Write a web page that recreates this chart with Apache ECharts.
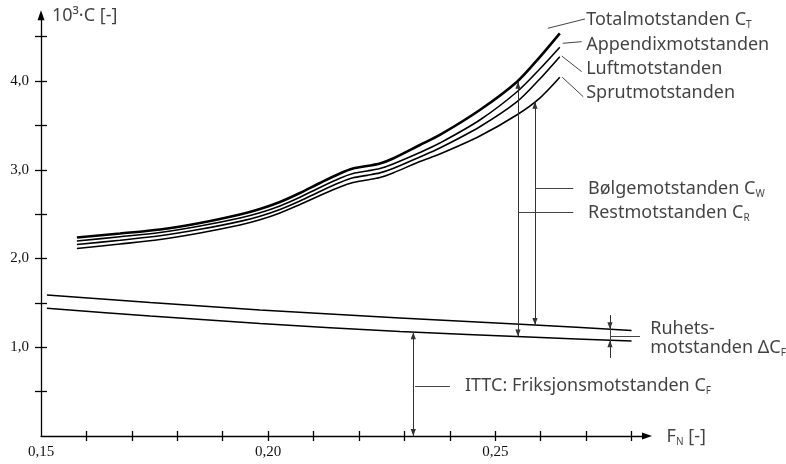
<!DOCTYPE html>
<html><head><meta charset="utf-8">
<script src="https://cdn.jsdelivr.net/npm/echarts@6/dist/echarts.min.js"></script>
<style>html,body{margin:0;padding:0;background:#fff}#c{width:786px;height:464px}</style>
</head><body><div id="c"></div>
<script>
// ---- data ----
const froudeCurves = [0.1579,0.1674,0.1762,0.1850,0.1938,0.1982,0.2026,0.2070,0.2114,0.2158,0.2187,0.2218,0.2246,0.2275,0.2334,0.2378,0.2466,0.2548,0.2598,0.2642];
const totalC    = [2.237,2.282,2.327,2.400,2.496,2.558,2.637,2.738,2.851,2.958,3.014,3.042,3.070,3.127,3.279,3.392,3.673,3.992,4.270,4.537];
const appendixC = [2.197,2.245,2.293,2.366,2.457,2.516,2.592,2.690,2.801,2.905,2.958,2.986,3.013,3.065,3.194,3.301,3.561,3.879,4.135,4.380];
const luftC     = [2.158,2.206,2.256,2.329,2.418,2.477,2.553,2.648,2.756,2.856,2.909,2.937,2.965,3.014,3.144,3.245,3.485,3.767,4.023,4.274];
const sprutC    = [2.113,2.163,2.214,2.288,2.378,2.436,2.513,2.609,2.710,2.806,2.856,2.885,2.912,2.964,3.093,3.177,3.380,3.620,3.808,4.042];
const froudeFriction = [0.1513,0.1740,0.1982,0.2290,0.2587,0.2800];
const roughFrictionC = [1.589,1.504,1.420,1.330,1.250,1.190];
const ittcFrictionC  = [1.439,1.352,1.268,1.177,1.113,1.070];
const xTickValues  = [0.16,0.17,0.18,0.19,0.20,0.21,0.22,0.23,0.24,0.25,0.26,0.27,0.28];
const xLabelValues = [0.15,0.20,0.25];
const yTickValues  = [0.5,1.0,1.5,2.0,2.5,3.0,3.5,4.0,4.5];
const yLabelValues = [1.0,2.0,3.0,4.0];

// annotation geometry in data units
const doubleArrows = [
  [[0.23195,1.168],[0.23195,0]],     // ITTC C_F
  [[0.2550,1.121],[0.2550,3.992]],   // Restmotstanden C_R
  [[0.25874,1.252],[0.25874,3.767]]  // Bølgemotstanden C_W
];
const singleArrows = [
  [[0.27525,1.363],[0.27525,1.204]],
  [[0.27525,0.879],[0.27525,1.080]]
];
const plainLines = [
  [[0.27525,1.204],[0.27525,1.080]],
  [[0.27525,1.127],[0.28186,1.127]],
  [[0.23233,0.556],[0.24003,0.556]],
  [[0.25506,2.521],[0.26717,2.521]],
  [[0.25874,2.786],[0.26717,2.786]],
  [[0.26157,4.594],[0.26975,4.699]],
  [[0.26484,4.425],[0.26902,4.443]],
  [[0.26462,4.282],[0.26902,4.105]],
  [[0.26475,4.042],[0.26937,3.823]]
];
const textLabels = [
  [0.2700,4.687,'{t|Totalmotstanden C}{s|T}'],
  [0.2700,4.406,'{t|Appendixmotstanden}'],
  [0.2700,4.140,'{t|Luftmotstanden}'],
  [0.2700,3.865,'{t|Sprutmotstanden}'],
  [0.2704,2.783,'{t|Bølgemotstanden C}{s|W}'],
  [0.2704,2.513,'{t|Restmotstanden C}{s|R}'],
  [0.2841,1.210,'{t|Ruhets-}'],
  [0.2841,0.992,'{t|motstanden ΔC}{s|F}'],
  [0.2433,0.563,'{t|ITTC: Friksjonsmotstanden C}{s|F}'],
  [0.1524,4.730,'{t|10³·C [-]}'],
  [0.2877,-0.015,'{t|F}{s|N}{t| [-]}']
];

const SANS = '"Noto Sans", "Open Sans", sans-serif';
const SERIF = '"Liberation Serif", "DejaVu Serif", serif';
const arrowHead = 'path://M0,8 L3,16 L-3,16 Z M-8,0 L8,0 L8,0.001 Z';

const zip = (xs, ys) => xs.map((x, i) => [x, ys[i]]);
const curve = (name, ys, w) => ({
  name, type: 'line', data: zip(froudeCurves, ys), smooth: 0.3, showSymbol: false,
  lineStyle: { color: '#000', width: w }, silent: true, z: 3
});

const chart = echarts.init(document.getElementById('c'), null, { renderer: 'canvas' });
const xMin = 0.15, xMax = 0.2834, yMax = 4.74;
const axisCommon = { type: 'value', splitLine: { show: false } };
chart.setOption({
  animation: false,
  backgroundColor: '#fff',
  grid: { left: 41, right: 139, top: 436 - yMax * 88.75, bottom: 28, outerBoundsMode: 'none' },
  xAxis: [
    Object.assign({}, axisCommon, {
      min: xMin, max: xMax,
      axisLine: { show: true, symbol: ['none', 'triangle'], symbolSize: [7, 10], lineStyle: { color: '#000', width: 1.3 } },
      axisTick: { show: true, customValues: xTickValues, length: 5, lineStyle: { color: '#000', width: 1.3 } },
      axisLabel: { show: true, customValues: xLabelValues, margin: 9, color: '#111', fontFamily: SERIF, fontSize: 15,
        formatter: v => v.toFixed(2).replace('.', ',') }
    }),
    Object.assign({}, axisCommon, {
      min: xMin, max: xMax, position: 'bottom',
      axisLine: { show: false },
      axisTick: { show: true, inside: true, customValues: xTickValues, length: 5, lineStyle: { color: '#000', width: 1.3 } },
      axisLabel: { show: false }
    })
  ],
  yAxis: [
    Object.assign({}, axisCommon, {
      min: 0, max: yMax,
      axisLine: { show: true, symbol: ['none', 'triangle'], symbolSize: [7, 10], lineStyle: { color: '#000', width: 1.3 } },
      axisTick: { show: true, customValues: yTickValues, length: 6, lineStyle: { color: '#000', width: 1.3 } },
      axisLabel: { show: true, customValues: yLabelValues, margin: 12, color: '#111', fontFamily: SERIF, fontSize: 15,
        formatter: v => v.toFixed(1).replace('.', ',') }
    }),
    Object.assign({}, axisCommon, {
      min: 0, max: yMax, position: 'left',
      axisLine: { show: false },
      axisTick: { show: true, inside: true, customValues: yTickValues, length: 6, lineStyle: { color: '#000', width: 1.3 } },
      axisLabel: { show: false }
    })
  ],
  series: [
    curve('Totalmotstanden', totalC, 2.6),
    curve('Appendixmotstanden', appendixC, 1.6),
    curve('Luftmotstanden', luftC, 1.6),
    curve('Sprutmotstanden', sprutC, 1.6),
    { name: 'CF+dCF', type: 'line', data: zip(froudeFriction, roughFrictionC), smooth: 0.3, showSymbol: false,
      lineStyle: { color: '#000', width: 1.5 }, silent: true },
    { name: 'CF', type: 'line', data: zip(froudeFriction, ittcFrictionC), smooth: 0.3, showSymbol: false,
      lineStyle: { color: '#000', width: 1.5 }, silent: true },
    { type: 'lines', coordinateSystem: 'cartesian2d', polyline: false,
      symbol: [arrowHead, arrowHead], symbolSize: 14,
      lineStyle: { color: '#333', width: 1, opacity: 1 },
      data: doubleArrows.map(c => ({ coords: c })), silent: true, z: 4 },
    { type: 'lines', coordinateSystem: 'cartesian2d',
      symbol: ['none', arrowHead], symbolSize: 14,
      lineStyle: { color: '#333', width: 1, opacity: 1 },
      data: singleArrows.map(c => ({ coords: c })), silent: true, z: 4 },
    { type: 'lines', coordinateSystem: 'cartesian2d',
      symbol: ['none', 'none'],
      lineStyle: { color: '#444', width: 1, opacity: 1 },
      data: plainLines.map(c => ({ coords: c })), silent: true, z: 4 },
    { type: 'scatter', clip: false, symbolSize: 0.1, itemStyle: { color: 'transparent' }, silent: true,
      data: textLabels.map(d => ({ value: [d[0], d[1]], name: d[2] })),
      label: { show: true, position: 'right', distance: 0, align: 'left', verticalAlign: 'middle',
        formatter: '{b}',
        rich: {
          t: { fontFamily: SANS, fontSize: 18, color: '#111', lineHeight: 22 },
          s: { fontFamily: SANS, fontSize: 10, color: '#111', lineHeight: 22, verticalAlign: 'bottom', padding: [0, 0, 1, 0] }
        } } }
  ]
});
</script></body></html>
